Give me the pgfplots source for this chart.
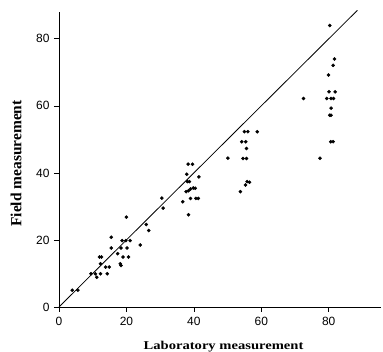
\documentclass[border=0pt]{standalone}
\usepackage{pgfplots}
\pgfplotsset{compat=1.18}
\usepackage{fontspec}
\setmainfont{Liberation Serif}
\setsansfont{Liberation Sans}
\begin{document}
\begin{tikzpicture}
\begin{axis}[
  scale only axis,
  width=322bp, height=295bp,
  xmin=0, xmax=95.5, ymin=0, ymax=88,
  axis lines=left,
  axis line style={-, line width=0.9pt},
  tick align=outside,
  tick style={black, line width=0.7pt},
  major tick length=5bp,
  xtick={0,20,40,60,80}, ytick={0,20,40,60,80},
  /pgf/number format/assume math mode=true,
  tick label style={font=\sffamily\fontsize{12}{14}\selectfont},
  xticklabel style={yshift=-2bp},
  yticklabel style={xshift=-1bp},
  xlabel={\textbf{Laboratory measurement}},
  ylabel={\textbf{Field measurement}},
  xlabel style={font=\fontsize{12}{14}\selectfont, xscale=1.22,
    at={(axis description cs:0.511,-0.1458)}, anchor=base},
  ylabel style={font=\fontsize{15.5}{17}\selectfont,
    at={(axis description cs:-0.1335,0.4864)}, anchor=center},
  clip=false,
]
\addplot[black, line width=0.8pt] coordinates {(0,0) (88.5,88.5)};
\addplot[only marks, mark=*, mark size=1.6pt, black] coordinates {
(3.9,5.0) (5.6,5.0) (9.5,9.9) (10.8,9.9) (11.2,8.9) (12.3,9.9) (14.3,9.9)
(12.0,14.9) (12.6,14.9) (12.3,12.9) (13.8,11.9) (14.9,11.9)
(15.5,20.8) (15.5,17.6) (17.4,15.9) (18.2,12.9) (18.4,12.4) (18.4,17.6)
(18.7,19.8) (19.8,19.8) (19.0,14.9) (20.0,26.8) (20.2,17.6) (20.6,14.9)
(21.1,19.8) (24.1,18.5) (25.9,24.6) (26.6,22.8) (30.5,32.5) (30.9,29.5)
(36.7,31.4) (37.9,39.6) (37.7,34.4) (38.4,34.7) (38.1,37.4) (38.7,37.4)
(38.4,27.5) (38.3,42.6) (39.6,42.6) (39.0,32.4) (39.0,35.2) (39.8,35.5)
(40.4,35.4) (40.6,32.4) (41.3,32.4) (41.5,38.8)
(50.1,44.4) (53.8,34.4) (54.2,49.3) (55.4,49.3) (54.6,44.3) (55.6,44.3)
(55.0,52.3) (56.0,52.3) (55.6,47.3) (55.3,36.4) (55.8,37.4) (56.5,37.2)
(58.8,52.3)
(72.5,62.2) (77.4,44.4) (79.4,62.2) (79.9,69.2) (80.1,64.2) (80.3,84.0)
(80.3,57.2) (80.7,57.2) (80.7,59.3) (80.6,49.3) (81.3,49.3) (80.7,62.2)
(81.4,62.2) (81.3,72.1) (81.7,74.0) (81.9,64.2)
};
\coordinate (BL) at (rel axis cs:0,0);
\coordinate (TR) at (rel axis cs:1,1);
\end{axis}
\pgfresetboundingbox
\path ([xshift=-59bp,yshift=-45bp]BL) rectangle ([xshift=2bp,yshift=12bp]TR);
\end{tikzpicture}
\end{document}
